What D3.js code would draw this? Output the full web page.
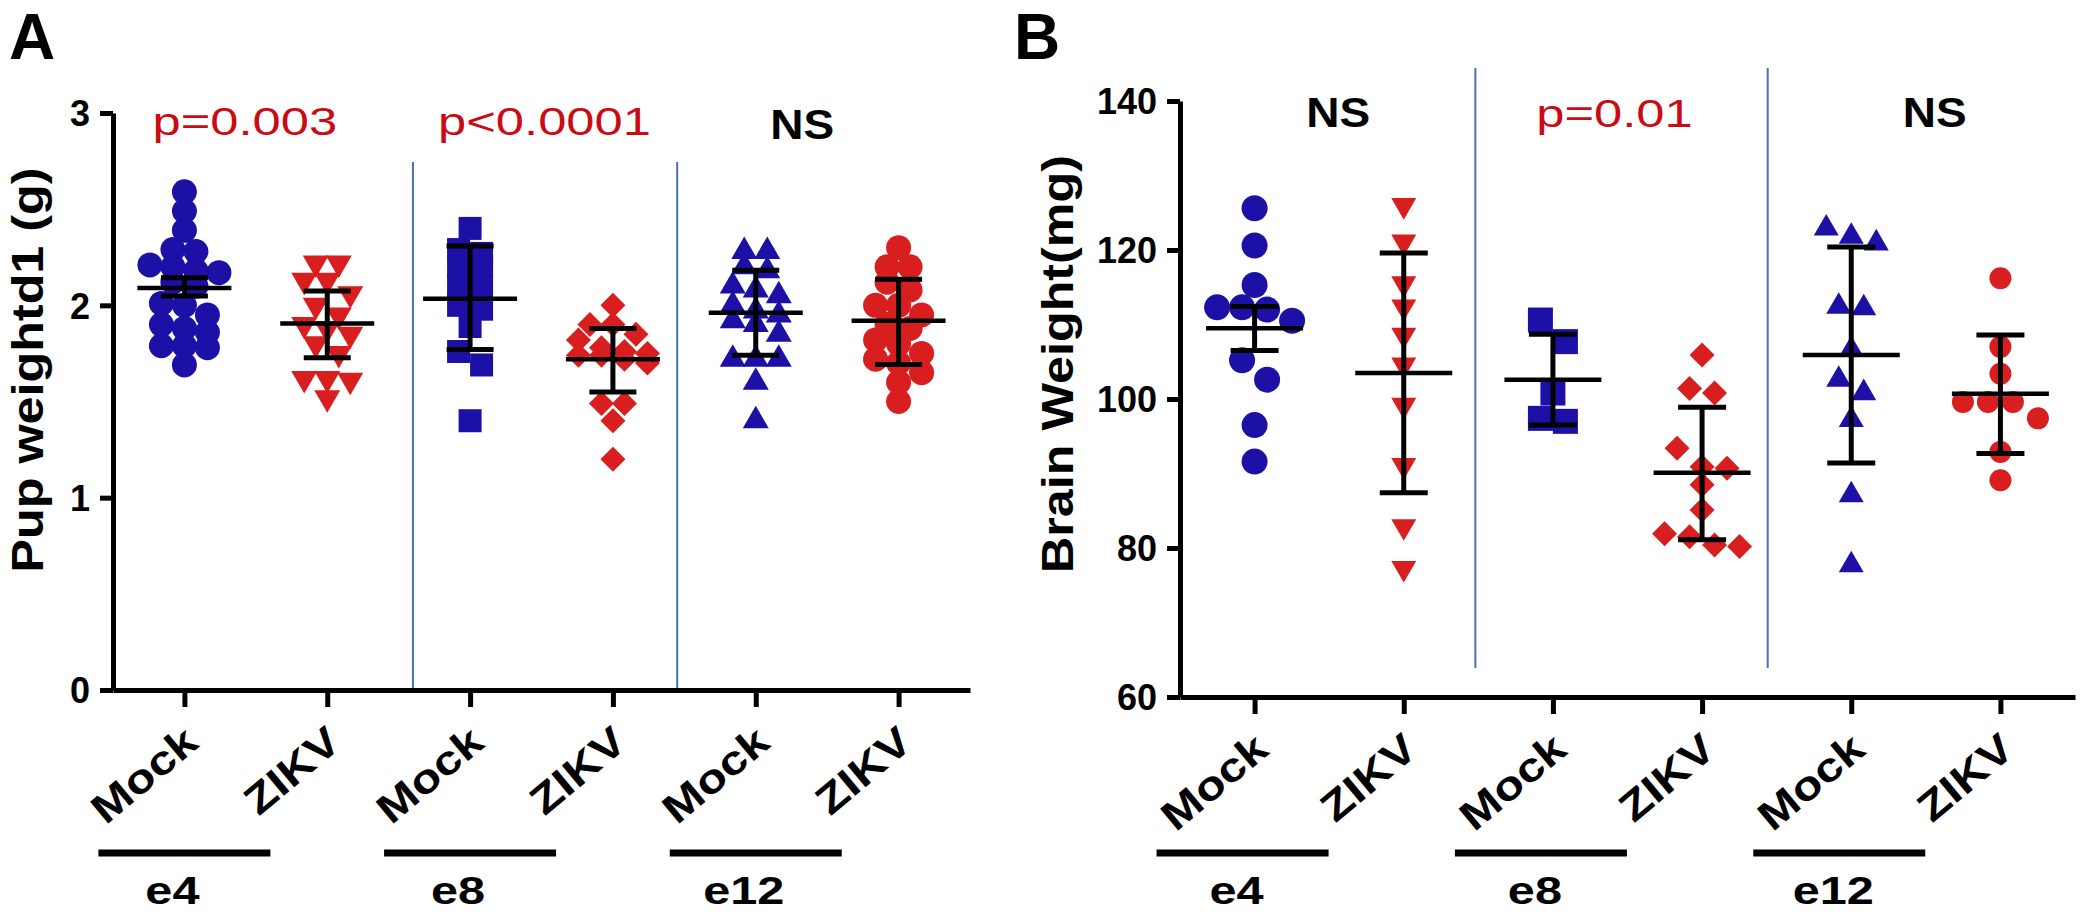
<!DOCTYPE html>
<html><head><meta charset="utf-8">
<script src="https://cdn.jsdelivr.net/npm/d3@7"></script>
<style>body{margin:0;background:#fff}svg{display:block}text{font-family:"Liberation Sans",Arial,Helvetica,sans-serif}</style>
</head><body>
<svg id="chart" width="2084" height="915"></svg>
<script>
// ---------------- data ----------------
const groups = ["e4", "e8", "e12"];
const conditions = ["Mock", "ZIKV"];
const categories = ["e4 Mock", "e4 ZIKV", "e8 Mock", "e8 ZIKV", "e12 Mock", "e12 ZIKV"];

const pupTicks = [0, 1, 2, 3];
const brainTicks = [60, 80, 100, 120, 140];

// Panel A: pup weight d1 (g)
const pupMockE4 = [2.59, 2.49, 2.39, 2.29, 2.28, 2.21, 2.20, 2.18, 2.17, 2.12, 2.10, 2.01, 2.00, 1.95, 1.90, 1.88, 1.86, 1.79, 1.79, 1.78, 1.69];
const pupZikvE4 = [2.22, 2.22, 2.13, 2.13, 2.06, 2.00, 1.95, 1.90, 1.88, 1.85, 1.80, 1.75, 1.62, 1.62, 1.61, 1.52];
const pupMockE8 = [2.40, 2.29, 2.27, 2.20, 2.20, 2.10, 2.10, 2.00, 1.98, 1.89, 1.76, 1.69, 1.40];
const pupZikvE8 = [2.00, 1.90, 1.90, 1.85, 1.82, 1.78, 1.76, 1.75, 1.74, 1.74, 1.72, 1.70, 1.49, 1.49, 1.40, 1.20];
const pupMockE12 = [2.28, 2.28, 2.20, 2.18, 2.10, 2.08, 2.05, 2.00, 1.97, 1.95, 1.92, 1.90, 1.85, 1.72, 1.72, 1.72, 1.60, 1.40];
const pupZikvE12 = [2.30, 2.20, 2.20, 2.12, 2.08, 2.00, 2.00, 1.95, 1.90, 1.88, 1.82, 1.80, 1.75, 1.72, 1.70, 1.65, 1.60, 1.50];
const pupMean = [2.09, 1.906, 2.034, 1.72, 1.962, 1.92];
const pupLow  = [2.048, 1.728, 1.771, 1.55, 1.74, 1.693];
const pupHigh = [2.144, 2.074, 2.308, 1.879, 2.183, 2.135];
const pupStats = ["p=0.003", "p<0.0001", "NS"];

// Panel B: brain weight (mg)
const brainMockE4 = [125.6, 120.6, 115.3, 112.3, 112.0, 112.3, 110.5, 105.2, 102.6, 96.5, 91.6];
const brainZikvE4 = [126.0, 121.1, 115.5, 112.4, 108.6, 104.6, 99.2, 91.1, 82.9, 77.3];
const brainMockE8 = [110.6, 107.7, 100.8, 97.4, 97.0];
const brainZikvE8 = [105.9, 101.4, 100.8, 93.4, 90.9, 90.7, 88.5, 85.1, 81.9, 81.5, 80.4, 80.2];
const brainMockE12 = [122.9, 121.8, 120.9, 112.4, 112.2, 106.6, 102.6, 100.8, 97.2, 87.1, 77.7];
const brainZikvE12 = [116.2, 107.0, 103.4, 99.6, 99.6, 99.6, 97.4, 92.9, 89.1];
const brainMean = [109.5, 103.5, 102.6, 90.1, 105.9, 100.7];
const brainLow  = [106.5, 87.4, 96.5, 81.1, 91.4, 92.7];
const brainHigh = [112.4, 119.6, 108.7, 98.9, 120.4, 108.6];
const brainStats = ["NS", "p=0.01", "NS"];

// ---------------- style / layout ----------------
const BLUE = "#1c10a6", RED = "#d81e1e", PRED = "#cc0a14", DIV = "#4d6fb8";
const shapes = ["circle", "triDown", "square", "diamond", "triUp", "circle"];
const colors = [BLUE, RED, BLUE, RED, BLUE, RED];

const panels = [
  {
    letter: "A", letterX: 9, title: "Pup weightd1 (g)", titleX: 43, titleY: 370, titleLen: 405,
    series: [pupMockE4, pupZikvE4, pupMockE8, pupZikvE8, pupMockE12, pupZikvE12],
    mean: pupMean, low: pupLow, high: pupHigh, stats: pupStats, statShift: [-11, 3, -25], statY: [135, 135, 139],
    ticks: pupTicks, domain: [0, 3], xL: 113, xR: 970, yB: 690, yT: 113,
    sizes: [12.5, 26, 23, 25, 26, 12.5], binPx: 15, spacing: 23,
    meanW: 94, capW: 47, dividers: [[1, 0.6], [3, 0.45]], divTop: 162, divBot: 690,
    lineShift: 0, groupLabShift: -12
  },
  {
    letter: "B", letterX: 1014, title: "Brain Weight(mg)", titleX: 1073, titleY: 364, titleLen: 418,
    series: [brainMockE4, brainZikvE4, brainMockE8, brainZikvE8, brainMockE12, brainZikvE12],
    mean: brainMean, low: brainLow, high: brainHigh, stats: brainStats, statShift: [9, -13, 9], statY: [127, 127, 127],
    ticks: brainTicks, domain: [60, 140], xL: 1180, xR: 2075, yB: 697, yT: 101,
    sizes: [13, 25, 25, 25, 25, 11], binPx: 22, spacing: 25,
    meanW: 97, capW: 48, dividers: [[1, 0.48], [3, 0.44]], divTop: 68, divBot: 668,
    lineShift: -12, groupLabShift: -18
  }
];

const svg = d3.select("#chart");
svg.append("rect").attr("width", 2084).attr("height", 915).attr("fill", "#fff");

function stretch(sel, target) {
  sel.attr("textLength", target).attr("lengthAdjust", "spacingAndGlyphs");
}
function stretchBy(sel, f) {
  sel.each(function () {
    const n = this.getComputedTextLength();
    d3.select(this).attr("textLength", n * f).attr("lengthAdjust", "spacingAndGlyphs");
  });
}

function markerPath(shape, s) {
  if (shape === "circle") return d3.symbol(d3.symbolCircle, Math.PI * s * s)();
  if (shape === "square") return d3.symbol(d3.symbolSquare, s * s)();
  if (shape === "diamond") return d3.symbol(d3.symbolSquare, s * s / 2)();
  return d3.symbol(d3.symbolTriangle, Math.sqrt(3) / 4 * s * s)();
}
function markerRot(shape) {
  if (shape === "diamond") return 45;
  if (shape === "triDown") return 180;
  return 0;
}

// GraphPad-like binned scatter: rows of points sharing a bin are spread horizontally
function swarm(values, y, xc, binPx, spacing) {
  const sorted = values.slice().sort((a, b) => b - a);
  const out = [];
  let i = 0;
  while (i < sorted.length) {
    const y0 = y(sorted[i]);
    const bin = [sorted[i]];
    let j = i + 1;
    while (j < sorted.length && y(sorted[j]) - y0 < binPx) { bin.push(sorted[j]); j++; }
    const k = bin.length;
    bin.forEach((v, m) => out.push({ v, x: xc + (m - (k - 1) / 2) * spacing }));
    i = j;
  }
  return out;
}

panels.forEach(p => {
  const g = svg.append("g");
  const x = d3.scalePoint().domain(categories).range([p.xL, p.xR]).padding(0.5);
  const y = d3.scaleLinear().domain(p.domain).range([p.yB, p.yT]);
  const step = x.step();

  // panel letter
  g.append("text").attr("x", p.letterX).attr("y", 59).attr("font-size", 64).attr("font-weight", "bold").text(p.letter);

  // y axis title
  stretch(g.append("text")
    .attr("transform", `translate(${p.titleX},${p.titleY}) rotate(-90)`)
    .attr("text-anchor", "middle").attr("font-size", 44).attr("font-weight", "bold")
    .text(p.title), p.titleLen);

  // dividers
  p.dividers.forEach(([ci, f]) => {
    const xd = x(categories[ci]) + f * step;
    g.append("line").attr("x1", xd).attr("x2", xd).attr("y1", p.divTop).attr("y2", p.divBot)
      .attr("stroke", DIV).attr("stroke-width", 2);
  });

  // points
  p.series.forEach((vals, ci) => {
    const pts = swarm(vals, y, x(categories[ci]), p.binPx, p.spacing);
    const path = markerPath(shapes[ci], p.sizes[ci]);
    g.append("g").selectAll("path").data(pts).join("path")
      .attr("d", path)
      .attr("transform", d => `translate(${d.x},${y(d.v)}) rotate(${markerRot(shapes[ci])})`)
      .attr("fill", colors[ci]);
  });

  // mean and error bars
  const eb = g.append("g").attr("stroke", "#000");
  categories.forEach((c, ci) => {
    const xc = x(c);
    eb.append("line").attr("x1", xc).attr("x2", xc).attr("y1", y(p.low[ci])).attr("y2", y(p.high[ci])).attr("stroke-width", 5);
    eb.append("line").attr("x1", xc - p.capW / 2).attr("x2", xc + p.capW / 2).attr("y1", y(p.low[ci])).attr("y2", y(p.low[ci])).attr("stroke-width", 5);
    eb.append("line").attr("x1", xc - p.capW / 2).attr("x2", xc + p.capW / 2).attr("y1", y(p.high[ci])).attr("y2", y(p.high[ci])).attr("stroke-width", 5);
    eb.append("line").attr("x1", xc - p.meanW / 2).attr("x2", xc + p.meanW / 2).attr("y1", y(p.mean[ci])).attr("y2", y(p.mean[ci])).attr("stroke-width", 4.5);
  });

  // y axis
  const ya = g.append("g").attr("transform", `translate(${p.xL},0)`)
    .call(d3.axisLeft(y).tickValues(p.ticks).tickSize(13).tickSizeOuter(0).tickPadding(10).tickFormat(d3.format("d")));
  ya.select(".domain").attr("stroke-width", 5);
  ya.selectAll(".tick line").attr("stroke-width", 5);
  ya.selectAll(".tick text").attr("font-size", 36).attr("font-weight", "bold").attr("fill", "#000")
    .attr("font-family", '"Liberation Sans",Arial,sans-serif').attr("dy", "0.36em");

  // x axis
  const xa = g.append("g").attr("transform", `translate(0,${p.yB})`)
    .call(d3.axisBottom(x).tickSize(17).tickSizeOuter(0).tickFormat(""));
  xa.select(".domain").attr("stroke-width", 5);
  xa.selectAll(".tick line").attr("stroke-width", 5);

  // category labels
  categories.forEach((c, ci) => {
    const cond = conditions[ci % 2];
    const t = g.append("text")
      .attr("transform", `translate(${x(c) + 16},${p.yB + 56}) rotate(-40)`)
      .attr("text-anchor", "end").attr("font-size", 41).attr("font-weight", "bold").text(cond);
    stretchBy(t, 1.18);
  });

  // group underline and labels
  groups.forEach((gr, gi) => {
    const xm = x(categories[gi * 2]) + p.lineShift;
    g.append("line").attr("x1", xm - 86).attr("x2", xm + 86).attr("y1", 853).attr("y2", 853)
      .attr("stroke", "#000").attr("stroke-width", 7);
    const t = g.append("text").attr("x", x(categories[gi * 2]) + p.groupLabShift).attr("y", 904)
      .attr("text-anchor", "middle").attr("font-size", 38).attr("font-weight", "bold").text(gr);
    stretchBy(t, 1.28);
  });

  // significance labels
  p.stats.forEach((s, gi) => {
    const xm = (x(categories[gi * 2]) + x(categories[gi * 2 + 1])) / 2 + p.statShift[gi];
    const isNS = s === "NS";
    const t = g.append("text").attr("x", xm).attr("y", p.statY[gi]).attr("text-anchor", "middle")
      .attr("font-size", isNS ? 43 : 39).attr("font-weight", isNS ? "bold" : "normal")
      .attr("fill", isNS ? "#000" : PRED).text(s);
    stretchBy(t, isNS ? 1.07 : 1.3);
  });
});
</script>
</body></html>
